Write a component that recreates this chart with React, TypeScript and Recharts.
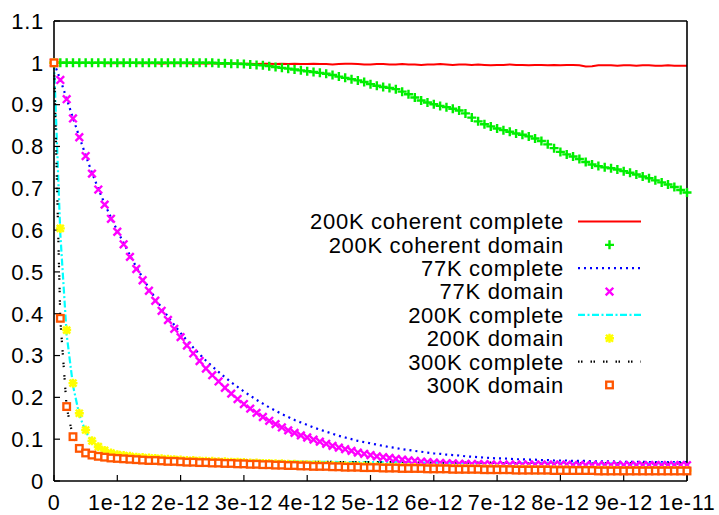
import React from "react";
import { Legend, Line, LineChart, XAxis, YAxis } from "recharts";

// time axis in units of 1e-12 s, sampled every 0.1
const xTicks = [0, 1, 2, 3, 4, 5, 6, 7, 8, 9, 10];
const xTickLabels = ["0", "1e-12", "2e-12", "3e-12", "4e-12", "5e-12", "6e-12", "7e-12", "8e-12", "9e-12", "1e-11"];
const yTicks = [0, 0.1, 0.2, 0.3, 0.4, 0.5, 0.6, 0.7, 0.8, 0.9, 1, 1.1];
const yTickLabels = ["0", "0.1", "0.2", "0.3", "0.4", "0.5", "0.6", "0.7", "0.8", "0.9", "1", "1.1"];

const coherentComplete200K = [
  1.0, 1.0, 1.0, 1.0, 0.999, 1.0, 0.999, 1.0, 0.999, 0.999,
  0.999, 0.999, 1.0, 0.999, 0.999, 0.999, 0.999, 0.998, 0.999, 0.999,
  0.999, 0.999, 0.998, 0.999, 0.998, 0.999, 0.998, 0.998, 0.999, 0.998,
  0.998, 0.998, 0.997, 0.998, 0.998, 0.997, 0.998, 0.997, 0.998, 0.997,
  0.997, 0.998, 0.997, 0.997, 0.996, 0.997, 0.998, 0.998, 0.997, 0.996,
  0.996, 0.997, 0.997, 0.996, 0.996, 0.997, 0.996, 0.996, 0.995, 0.996,
  0.996, 0.997, 0.996, 0.995, 0.996, 0.996, 0.995, 0.996, 0.995, 0.994,
  0.995, 0.995, 0.996, 0.995, 0.995, 0.994, 0.995, 0.995, 0.994, 0.995,
  0.994, 0.995, 0.995, 0.994, 0.991, 0.992, 0.994, 0.994, 0.994, 0.993,
  0.994, 0.994, 0.993, 0.994, 0.994, 0.993, 0.993, 0.994, 0.993, 0.993,
  0.993,
];
const coherentDomain200K = [
  1.0, 1.0, 1.0, 1.0, 1.0, 1.0, 1.0, 1.0, 1.0, 1.0,
  1.0, 1.0, 1.0, 1.0, 1.0, 1.0, 1.0, 1.0, 1.0, 1.0,
  1.0, 1.0, 1.0, 1.0, 1.0, 1.0, 0.999, 0.999, 0.998, 0.998,
  0.997, 0.996, 0.995, 0.994, 0.992, 0.99, 0.988, 0.986, 0.984, 0.982,
  0.98, 0.978, 0.976, 0.974, 0.971, 0.967, 0.964, 0.961, 0.958, 0.954,
  0.949, 0.945, 0.942, 0.94, 0.937, 0.931, 0.925, 0.917, 0.91, 0.905,
  0.901, 0.897, 0.894, 0.89, 0.886, 0.879, 0.869, 0.86, 0.853, 0.848,
  0.843, 0.839, 0.835, 0.831, 0.828, 0.824, 0.819, 0.813, 0.805, 0.796,
  0.787, 0.781, 0.776, 0.77, 0.763, 0.757, 0.753, 0.75, 0.748, 0.745,
  0.741, 0.737, 0.733, 0.728, 0.724, 0.719, 0.714, 0.709, 0.703, 0.696,
  0.69,
];
const complete77K = [
  1.0, 0.96, 0.914, 0.868, 0.823, 0.779, 0.737, 0.699, 0.663, 0.63,
  0.599, 0.569, 0.54, 0.512, 0.486, 0.461, 0.437, 0.414, 0.393, 0.373,
  0.354, 0.336, 0.319, 0.303, 0.288, 0.274, 0.261, 0.248, 0.236, 0.225,
  0.214, 0.204, 0.194, 0.185, 0.176, 0.168, 0.16, 0.153, 0.146, 0.14,
  0.134, 0.128, 0.123, 0.118, 0.113, 0.108, 0.104, 0.1, 0.096, 0.093,
  0.09, 0.087, 0.084, 0.081, 0.079, 0.076, 0.074, 0.072, 0.07, 0.068,
  0.066, 0.065, 0.063, 0.062, 0.061, 0.059, 0.058, 0.057, 0.056, 0.055,
  0.054, 0.054, 0.053, 0.052, 0.052, 0.051, 0.051, 0.05, 0.05, 0.049,
  0.049, 0.049, 0.048, 0.048, 0.048, 0.047, 0.047, 0.047, 0.047, 0.046,
  0.046, 0.046, 0.046, 0.046, 0.045, 0.045, 0.045, 0.045, 0.045, 0.045,
  0.045,
];
const domain77K = [
  1.0, 0.959, 0.913, 0.867, 0.822, 0.777, 0.735, 0.697, 0.661, 0.627,
  0.596, 0.566, 0.536, 0.507, 0.48, 0.455, 0.431, 0.407, 0.385, 0.364,
  0.344, 0.324, 0.305, 0.287, 0.269, 0.253, 0.238, 0.223, 0.209, 0.196,
  0.184, 0.173, 0.163, 0.153, 0.144, 0.136, 0.128, 0.121, 0.115, 0.109,
  0.104, 0.099, 0.094, 0.089, 0.084, 0.08, 0.076, 0.072, 0.068, 0.065,
  0.062, 0.059, 0.057, 0.055, 0.053, 0.051, 0.049, 0.048, 0.046, 0.045,
  0.044, 0.043, 0.042, 0.042, 0.041, 0.041, 0.04, 0.04, 0.04, 0.039,
  0.039, 0.039, 0.039, 0.039, 0.039, 0.039, 0.039, 0.039, 0.039, 0.039,
  0.039, 0.039, 0.038, 0.038, 0.038, 0.038, 0.038, 0.038, 0.038, 0.038,
  0.038, 0.038, 0.038, 0.038, 0.038, 0.038, 0.038, 0.038, 0.038, 0.038,
  0.038,
];
const complete200K = [
  1.0, 0.59, 0.35, 0.228, 0.158, 0.118, 0.094, 0.08, 0.071, 0.066,
  0.063, 0.061, 0.059, 0.058, 0.057, 0.056, 0.055, 0.054, 0.054, 0.053,
  0.052, 0.052, 0.051, 0.051, 0.05, 0.05, 0.05, 0.049, 0.049, 0.049,
  0.048, 0.048, 0.048, 0.048, 0.047, 0.047, 0.047, 0.047, 0.047, 0.046,
  0.046, 0.046, 0.046, 0.046, 0.046, 0.045, 0.045, 0.045, 0.045, 0.045,
  0.045, 0.045, 0.045, 0.045, 0.045, 0.044, 0.044, 0.044, 0.044, 0.044,
  0.044, 0.044, 0.044, 0.044, 0.044, 0.043, 0.043, 0.043, 0.043, 0.043,
  0.043, 0.043, 0.043, 0.043, 0.043, 0.043, 0.043, 0.043, 0.043, 0.043,
  0.043, 0.043, 0.043, 0.043, 0.043, 0.042, 0.042, 0.042, 0.042, 0.042,
  0.042, 0.042, 0.042, 0.042, 0.042, 0.042, 0.042, 0.042, 0.042, 0.042,
  0.042,
];
const domain200K = [
  1.0, 0.604, 0.361, 0.234, 0.162, 0.122, 0.096, 0.082, 0.073, 0.067,
  0.063, 0.061, 0.059, 0.057, 0.056, 0.055, 0.054, 0.053, 0.052, 0.051,
  0.05, 0.049, 0.049, 0.048, 0.047, 0.047, 0.046, 0.046, 0.045, 0.045,
  0.044, 0.043, 0.043, 0.042, 0.042, 0.041, 0.041, 0.04, 0.04, 0.039,
  0.039, 0.038, 0.038, 0.037, 0.037, 0.036, 0.036, 0.035, 0.035, 0.035,
  0.034, 0.034, 0.033, 0.033, 0.033, 0.032, 0.032, 0.032, 0.031, 0.031,
  0.031, 0.031, 0.03, 0.03, 0.03, 0.03, 0.029, 0.029, 0.029, 0.029,
  0.029, 0.028, 0.028, 0.028, 0.028, 0.028, 0.027, 0.027, 0.027, 0.027,
  0.027, 0.027, 0.026, 0.026, 0.026, 0.026, 0.026, 0.026, 0.026, 0.025,
  0.025, 0.025, 0.025, 0.025, 0.025, 0.025, 0.025, 0.025, 0.025, 0.025,
  0.025,
];
const complete300K = [
  1.0, 0.385, 0.176, 0.105, 0.08, 0.069, 0.064, 0.061, 0.059, 0.057,
  0.056, 0.055, 0.054, 0.053, 0.052, 0.052, 0.051, 0.051, 0.05, 0.05,
  0.05, 0.049, 0.049, 0.049, 0.048, 0.048, 0.048, 0.048, 0.047, 0.047,
  0.047, 0.047, 0.047, 0.047, 0.047, 0.046, 0.046, 0.046, 0.046, 0.046,
  0.046, 0.046, 0.046, 0.046, 0.046, 0.045, 0.045, 0.045, 0.045, 0.045,
  0.045, 0.045, 0.045, 0.045, 0.045, 0.044, 0.044, 0.044, 0.044, 0.044,
  0.044, 0.044, 0.044, 0.044, 0.044, 0.044, 0.044, 0.044, 0.044, 0.044,
  0.043, 0.043, 0.043, 0.043, 0.043, 0.043, 0.043, 0.043, 0.043, 0.043,
  0.043, 0.043, 0.043, 0.043, 0.043, 0.043, 0.043, 0.043, 0.043, 0.043,
  0.043, 0.043, 0.043, 0.043, 0.043, 0.042, 0.042, 0.042, 0.042, 0.042,
  0.042,
];
const domain300K = [
  1.0, 0.389, 0.178, 0.106, 0.078, 0.067, 0.062, 0.059, 0.057, 0.055,
  0.054, 0.053, 0.052, 0.051, 0.05, 0.049, 0.049, 0.048, 0.047, 0.047,
  0.046, 0.045, 0.045, 0.044, 0.044, 0.043, 0.043, 0.042, 0.042, 0.041,
  0.041, 0.04, 0.04, 0.039, 0.039, 0.038, 0.038, 0.037, 0.037, 0.036,
  0.036, 0.035, 0.035, 0.035, 0.034, 0.034, 0.033, 0.033, 0.033, 0.032,
  0.032, 0.032, 0.031, 0.031, 0.031, 0.03, 0.03, 0.03, 0.03, 0.029,
  0.029, 0.029, 0.029, 0.028, 0.028, 0.028, 0.028, 0.028, 0.027, 0.027,
  0.027, 0.027, 0.027, 0.026, 0.026, 0.026, 0.026, 0.026, 0.026, 0.025,
  0.025, 0.025, 0.025, 0.025, 0.025, 0.025, 0.024, 0.024, 0.024, 0.024,
  0.024, 0.024, 0.024, 0.024, 0.024, 0.024, 0.024, 0.024, 0.024, 0.024,
  0.024,
];

type Marker = "plus" | "cross" | "star" | "square";

function markerShape(kind: Marker, color: string, cx: number, cy: number, key?: React.Key) {
  if (kind === "plus") {
    return <path key={key} d={`M${cx - 4.5},${cy}h9M${cx},${cy - 4.5}v9`} stroke={color} strokeWidth={2.4} fill="none" />;
  }
  if (kind === "cross") {
    return <path key={key} d={`M${cx - 3.8},${cy - 3.8}l7.6,7.6M${cx + 3.8},${cy - 3.8}l-7.6,7.6`} stroke={color} strokeWidth={2.4} fill="none" />;
  }
  if (kind === "star") {
    return (
      <path
        key={key}
        d={`M${cx - 4.5},${cy}h9M${cx},${cy - 4.5}v9M${cx - 3.5},${cy - 3.5}l7,7M${cx + 3.5},${cy - 3.5}l-7,7`}
        stroke={color}
        strokeWidth={2.4}
        fill="none"
      />
    );
  }
  return <rect key={key} x={cx - 3.3} y={cy - 3.3} width={6.6} height={6.6} stroke={color} strokeWidth={2.3} fill="#fff" />;
}

const series: {
  key: string;
  name: string;
  values: number[];
  color: string;
  dash?: string;
  width?: number;
  marker?: Marker;
}[] = [
  { key: "cc200", name: "200K coherent complete", values: coherentComplete200K, color: "#ff0000", width: 2 },
  { key: "cd200", name: "200K coherent domain", values: coherentDomain200K, color: "#00ee00", marker: "plus" },
  { key: "c77", name: "77K complete", values: complete77K, color: "#0000ff", dash: "2 4", width: 2.2 },
  { key: "d77", name: "77K domain", values: domain77K, color: "#ff00ff", marker: "cross" },
  { key: "c200", name: "200K complete", values: complete200K, color: "#00ffff", dash: "7 2.5 2 2.5", width: 2.2 },
  { key: "d200", name: "200K domain", values: domain200K, color: "#ffff00", marker: "star" },
  { key: "c300", name: "300K complete", values: complete300K, color: "#000000", dash: "1.5 1.5 1.5 8", width: 2.2 },
  { key: "d300", name: "300K domain", values: domain300K, color: "#ff5500", marker: "square" },
];

const data = coherentComplete200K.map((_, i) => {
  const row: Record<string, number> = { t: i / 10 };
  series.forEach((s) => {
    row[s.key] = s.values[i];
  });
  return row;
});

function ChartKey() {
  return (
    <svg width={719} height={515} style={{ position: "absolute", left: 0, top: 0 }}>
      {series.map((s, i) => {
        const y = 221.5 + i * 23.35;
        return (
          <g key={s.key}>
            <text x={564} y={y} dy="0.36em" textAnchor="end" fill="#000" fontSize={22}>
              {s.name}
            </text>
            {s.marker ? (
              markerShape(s.marker, s.color, 609.5, y)
            ) : (
              <line x1={578} x2={641} y1={y} y2={y} stroke={s.color} strokeWidth={s.width} strokeDasharray={s.dash} />
            )}
          </g>
        );
      })}
    </svg>
  );
}

const tickStyle = { fill: "#000", fontSize: 22 };
const xTickStyle = { fill: "#000", fontSize: 21.5 };
const axisLineStyle = { stroke: "#000", strokeWidth: 1.6 };
const tickLineStyle = { stroke: "#000", strokeWidth: 1.2 };

export default function App() {
  return (
    <div
      style={{
        position: "absolute",
        left: 0,
        top: 0,
        fontFamily: "'Liberation Sans', Arial, sans-serif",
        letterSpacing: "0.7px",
        background: "#fff",
      }}
    >
      <LineChart width={719} height={515} data={data} margin={{ top: 0, right: 0, bottom: 0, left: 0 }}>
        <XAxis
          dataKey="t"
          type="number"
          domain={[0, 10]}
          ticks={xTicks}
          interval={0}
          tickFormatter={(v: number) => xTickLabels[xTicks.indexOf(v)]}
          height={34}
          tickSize={-6}
          tickMargin={20}
          tick={xTickStyle}
          axisLine={axisLineStyle}
          tickLine={tickLineStyle}
        />
        <XAxis
          xAxisId="top"
          orientation="top"
          dataKey="t"
          type="number"
          domain={[0, 10]}
          ticks={xTicks}
          interval={0}
          height={21}
          tickSize={-6}
          tick={false}
          axisLine={axisLineStyle}
          tickLine={tickLineStyle}
        />
        <YAxis
          type="number"
          domain={[0, 1.1]}
          ticks={yTicks}
          interval={0}
          tickFormatter={(v: number) => yTickLabels[yTicks.indexOf(v)]}
          width={54}
          tickSize={-6}
          tickMargin={16}
          tick={tickStyle}
          axisLine={axisLineStyle}
          tickLine={tickLineStyle}
        />
        <YAxis
          yAxisId="right"
          orientation="right"
          type="number"
          domain={[0, 1.1]}
          ticks={yTicks}
          interval={0}
          width={32}
          tickSize={-6}
          tick={false}
          axisLine={axisLineStyle}
          tickLine={tickLineStyle}
        />
        <Legend
          layout="horizontal"
          verticalAlign="middle"
          align="center"
          wrapperStyle={{ left: 0, top: 0, width: 719, height: 515, pointerEvents: "none" }}
          content={() => <ChartKey />}
        />
        {series.map((s) =>
          s.marker ? (
            <Line
              key={s.key}
              dataKey={s.key}
              name={s.name}
              type="linear"
              stroke="none"
              isAnimationActive={false}
              activeDot={false}
              dot={(p: any) => markerShape(s.marker as Marker, s.color, p.cx, p.cy, `${s.key}-${p.index}`)}
            />
          ) : (
            <Line
              key={s.key}
              dataKey={s.key}
              name={s.name}
              type="linear"
              stroke={s.color}
              strokeWidth={s.width}
              strokeDasharray={s.dash}
              dot={false}
              activeDot={false}
              isAnimationActive={false}
            />
          )
        )}
      </LineChart>
    </div>
  );
}
